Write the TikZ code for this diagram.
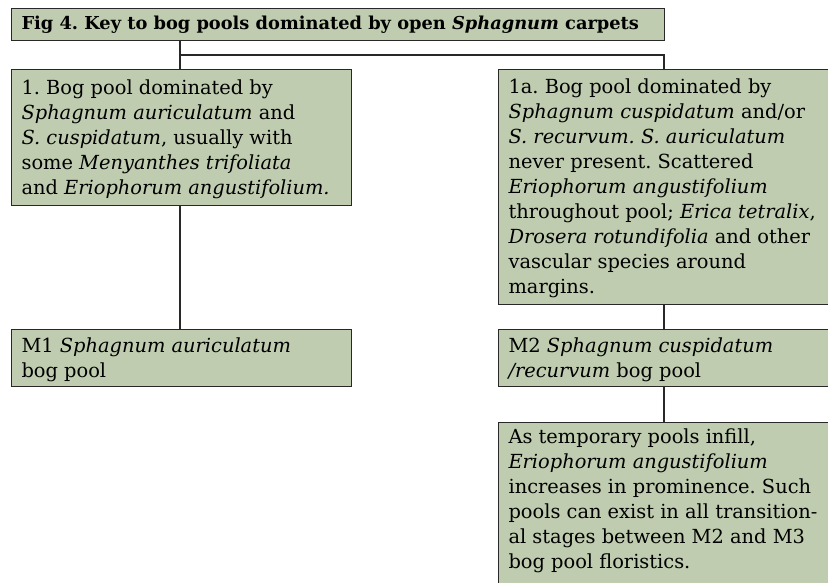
\documentclass[tikz,border=0pt]{standalone}
\usepackage{fontspec}
\setmainfont{DejaVu Serif}
\definecolor{bog}{RGB}{191,204,175}
\definecolor{edge}{RGB}{40,40,40}
\tikzset{
  box/.style={draw=edge, line width=1.1pt, fill=bog, inner xsep=10pt, inner ysep=0pt,
    anchor=north west, font=\fontsize{19.4}{25}\selectfont},
  link/.style={draw=edge, line width=2.3pt},
}
\newcommand{\boxtext}[4]{\parbox[t][#1][t]{#2}{\raggedright\frenchspacing\rule{0pt}{#3}#4}}
\begin{document}
\begin{tikzpicture}[x=1pt,y=-1pt]
\useasboundingbox (0,0) rectangle (828,583);
\clip (0,0) rectangle (828,583);
\node[box, font=\fontsize{17.8}{25}\selectfont\bfseries] (title) at (11,8)
  {\boxtext{32pt}{633pt}{21pt}{Fig 4. Key to bog pools dominated by open \textit{Sphagnum} carpets}};
\node[box] (b1) at (11,69)
  {\boxtext{136pt}{320pt}{24.5pt}{1. Bog pool dominated by\\
   \textit{Sphagnum auriculatum} and\\
   \textit{S. cuspidatum}, usually with\\
   some \textit{Menyanthes trifoliata}\\
   and \textit{Eriophorum angustifolium.}}};
\node[box] (b1a) at (498,69)
  {\boxtext{235pt}{322pt}{24pt}{1a. Bog pool dominated by\\
   \textit{Sphagnum cuspidatum} and/or\\
   \textit{S. recurvum. S. auriculatum}\\
   never present. Scattered\\
   \textit{Eriophorum angustifolium}\\
   throughout pool; \textit{Erica tetralix},\\
   \textit{Drosera rotundifolia} and other\\
   vascular species around\\
   margins.}};
\node[box] (m1) at (11,329)
  {\boxtext{57pt}{320pt}{23pt}{M1 \textit{Sphagnum auriculatum}\\ bog pool}};
\node[box] (m2) at (498,329)
  {\boxtext{57pt}{322pt}{23pt}{M2 \textit{Sphagnum cuspidatum}\\ \textit{/recurvum} bog pool}};
\node[box] (note) at (498,422)
  {\boxtext{168pt}{322pt}{21pt}{As temporary pools infill,\\
   \textit{Eriophorum angustifolium}\\
   increases in prominence. Such\\
   pools can exist in all transition-\\
   al stages between M2 and M3\\
   bog pool floristics.}};
\coordinate (jl) at (180,55);
\coordinate (jr) at (664,55);
\draw[link] (title.south -| jl) -- (b1.north -| jl);
\draw[link] (jl) -- (jr) -- (b1a.north -| jr);
\draw[link] (b1.south -| jl) -- (m1.north -| jl);
\draw[link] (b1a.south -| jr) -- (m2.north -| jr);
\draw[link] (m2.south -| jr) -- (note.north -| jr);
\end{tikzpicture}
\end{document}
